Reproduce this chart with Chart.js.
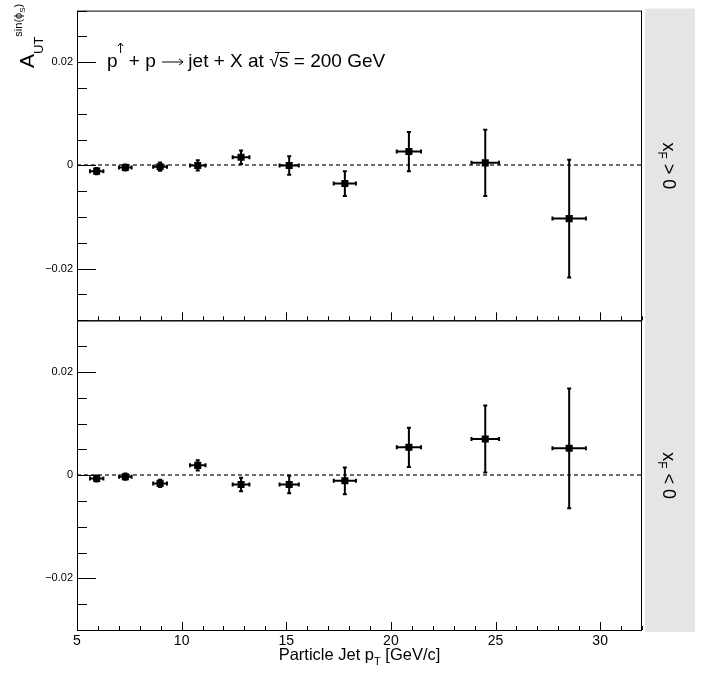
<!DOCTYPE html>
<html>
<head>
<meta charset="utf-8">
<script src="https://cdn.jsdelivr.net/npm/chart.js@4/dist/chart.umd.min.js"></script>
<style>
  body { margin: 0; background: #fff; }
  #wrap { position: relative; width: 701px; height: 674px; }
</style>
</head>
<body>
<div id="wrap"><canvas id="asym_chart"></canvas></div>
<script>
// particle jet pT bins (GeV/c) and their horizontal errors
var jetPt    = [5.94, 7.31, 8.97, 10.77, 12.84, 15.14, 17.80, 20.86, 24.51, 28.52];
var jetPtErr = [0.32, 0.30, 0.33, 0.37, 0.40, 0.46, 0.53, 0.58, 0.66, 0.80];

// A_UT^sin(phi_S), xF > 0 (top) and xF < 0 (bottom)
var aTop    = [-0.0011, -0.0004, -0.00025, 0.0000, 0.0016, 0.0000, -0.0035, 0.0027, 0.0005, -0.0103];
var aTopErr = [0.0006, 0.0006, 0.0008, 0.0010, 0.0013, 0.0018, 0.0024, 0.0038, 0.0064, 0.0114];
var aBot    = [-0.00065, -0.0003, -0.0016, 0.0019, -0.0018, -0.0018, -0.0011, 0.0054, 0.0070, 0.0052];
var aBotErr = [0.0006, 0.0006, 0.0007, 0.0010, 0.0013, 0.0017, 0.0026, 0.0038, 0.0065, 0.0116];

var xTickVals = [5, 10, 15, 20, 25, 30];
var yTickVals = [-0.02, 0, 0.02];
var panelSigns = [">", "<"]; // x_F > 0 / x_F < 0

var FONT = "'Liberation Sans', Arial, Helvetica, sans-serif";

function makePoints(vals, errs) {
  return jetPt.map(function (x, i) {
    return { x: x, y: vals[i], xErr: jetPtErr[i], yErr: errs[i] };
  });
}

// draw pieces of text one after the other on the current baseline
function richText(c, x, y, parts) {
  parts.forEach(function (p) {
    c.font = p.size + "px " + FONT;
    c.fillText(p.t, x, y + (p.dy || 0));
    x += c.measureText(p.t).width;
  });
  return x;
}

var rootFrame = {
  id: "rootFrame",
  beforeDatasetsDraw: function (chart) {
    var c = chart.ctx, xs = chart.scales.x, area = chart.chartArea;
    c.save();
    ["yTop", "yBot"].forEach(function (id) {
      var y0 = Math.round(chart.scales[id].getPixelForValue(0));
      c.strokeStyle = "#6a6a6a";
      c.lineWidth = 2;
      c.setLineDash([4, 3]);
      c.beginPath();
      c.moveTo(area.left, y0);
      c.lineTo(area.right, y0);
      c.stroke();
    });
    c.setLineDash([]);
    // error bars
    chart.data.datasets.forEach(function (ds) {
      var ys = chart.scales[ds.yAxisID];
      c.strokeStyle = "#000";
      c.lineWidth = 2;
      ds.data.forEach(function (d) {
        var px = xs.getPixelForValue(d.x), py = ys.getPixelForValue(d.y);
        var x1 = xs.getPixelForValue(d.x - d.xErr), x2 = xs.getPixelForValue(d.x + d.xErr);
        var y1 = ys.getPixelForValue(d.y - d.yErr), y2 = ys.getPixelForValue(d.y + d.yErr);
        c.beginPath();
        c.moveTo(x1, py); c.lineTo(x2, py);
        c.moveTo(x1, py - 2); c.lineTo(x1, py + 2);
        c.moveTo(x2, py - 2); c.lineTo(x2, py + 2);
        c.moveTo(px, y1); c.lineTo(px, y2);
        c.moveTo(px - 2, y1); c.lineTo(px + 2, y1);
        c.moveTo(px - 2, y2); c.lineTo(px + 2, y2);
        c.stroke();
      });
    });
    c.restore();
  },
  afterDraw: function (chart) {
    var c = chart.ctx, xs = chart.scales.x, area = chart.chartArea;
    c.save();
    c.strokeStyle = "#000";
    c.fillStyle = "#000";
    c.lineWidth = 1;
    ["yTop", "yBot"].forEach(function (id, k) {
      var ys = chart.scales[id];
      var top = ys.top, bot = ys.bottom;
      c.strokeRect(area.left + 0.5, top + 0.5, area.right - area.left - 1, bot - top);
      c.beginPath();
      // y ticks, every 0.005, longer on the labelled ones
      for (var v = -0.03; v <= 0.0301; v += 0.005) {
        var py = Math.round(ys.getPixelForValue(v)) + 0.5;
        var big = yTickVals.some(function (t) { return Math.abs(t - v) < 1e-6; });
        c.moveTo(area.left, py);
        c.lineTo(area.left + (big ? 19 : 10), py);
      }
      // x ticks at the panel bottom
      for (var x = 5; x <= 32; x++) {
        var px = Math.round(xs.getPixelForValue(x)) + 0.5;
        c.moveTo(px, bot);
        c.lineTo(px, bot - (x % 5 === 0 ? 8 : 4));
      }
      c.stroke();

      // grey strip on the right
      c.fillStyle = "#e5e5e5";
      c.fillRect(area.right + 3, top - 2 + (k ? 1 : 0), 50, bot - top + 3);
      c.fillStyle = "#000";
      c.save();
      c.translate(area.right + 21, (top + bot) / 2 - 23);
      c.rotate(Math.PI / 2);
      richText(c, 0, 0, [
        { t: "x", size: 18 },
        { t: "F", size: 12, dy: 5 },
        { t: " " + panelSigns[k] + " 0", size: 18 }
      ]);
      c.restore();
    });

    // y axis title
    c.save();
    c.translate(34, 68);
    c.rotate(-Math.PI / 2);
    var xe = richText(c, 0, 0, [{ t: "A", size: 21 }]);
    var xu = richText(c, xe, 9, [{ t: "UT", size: 13 }]);
    richText(c, xu, -12, [
      { t: "sin(\u03d5", size: 11 },
      { t: "S", size: 8, dy: 3 },
      { t: ")", size: 11 }
    ]);
    c.restore();

    // process label: p^ + p -> jet + X at sqrt(s) = 200 GeV
    var by = 67;
    var bx = richText(c, 107, by, [{ t: "p", size: 19 }]);
    var ax = bx + 3;
    c.beginPath();
    c.moveTo(ax, by - 14); c.lineTo(ax, by - 24);
    c.moveTo(ax - 2.5, by - 21); c.lineTo(ax, by - 24); c.lineTo(ax + 2.5, by - 21);
    c.stroke();
    bx = richText(c, ax + 3, by, [{ t: " + p ", size: 19 }]);
    c.beginPath();
    c.moveTo(bx + 1, by - 5); c.lineTo(bx + 22, by - 5);
    c.moveTo(bx + 18, by - 8); c.lineTo(bx + 22, by - 5); c.lineTo(bx + 18, by - 2);
    c.stroke();
    bx = richText(c, bx + 22, by, [{ t: " jet + X at ", size: 19 }]);
    var rx = bx;
    bx = richText(c, bx, by, [{ t: "\u221a", size: 18 }]);
    bx = richText(c, bx, by, [{ t: "s", size: 19 }]);
    c.beginPath();
    c.moveTo(rx + 6, by - 14.5);
    c.lineTo(bx + 1, by - 14.5);
    c.stroke();
    richText(c, bx, by, [{ t: " = 200 GeV", size: 19 }]);

    // x axis title
    var parts = [
      { t: "Particle Jet p", size: 16.5 },
      { t: "T", size: 11, dy: 5 },
      { t: " [GeV/c]", size: 16.5 }
    ];
    var tw = 0;
    parts.forEach(function (p) {
      c.font = p.size + "px " + FONT;
      tw += c.measureText(p.t).width;
    });
    richText(c, (area.left + area.right) / 2 - tw / 2, 660, parts);
    c.restore();
  }
};

function yAxis() {
  return {
    type: "linear",
    position: "left",
    stack: "panels",
    stackWeight: 1,
    min: -0.03,
    max: 0.03,
    afterBuildTicks: function (s) {
      s.ticks = yTickVals.map(function (v) { return { value: v }; });
    },
    afterFit: function (s) { s.width = 77; },
    grid: { display: false, drawTicks: false },
    border: { display: false },
    ticks: {
      padding: 4,
      color: "#000",
      font: { family: FONT, size: 11 },
      callback: function (v) {
        if (Math.abs(v) < 1e-9) return "0";
        return (v < 0 ? "\u2212" : "") + Math.abs(v).toFixed(2);
      }
    }
  };
}

var ctx = document.getElementById("asym_chart").getContext("2d");
var asym_chart = new Chart(ctx, {
  type: "scatter",
  data: {
    datasets: [
      {
        label: "x_F > 0",
        data: makePoints(aTop, aTopErr),
        yAxisID: "yTop",
        pointStyle: "rect",
        pointRadius: 5,
        backgroundColor: "#000",
        borderWidth: 0,
      },
      {
        label: "x_F < 0",
        data: makePoints(aBot, aBotErr),
        yAxisID: "yBot",
        pointStyle: "rect",
        pointRadius: 5,
        backgroundColor: "#000",
        borderWidth: 0,
      },
    ],
  },
  options: {
    responsive: true,
    maintainAspectRatio: false,
    animation: false,
    layout: { autoPadding: false, padding: { top: 7, right: 59, left: 0, bottom: 0 } },
    plugins: {
      legend: { display: false },
      tooltip: { enabled: false },
    },
    scales: {
      x: {
        type: "linear",
        min: 5,
        max: 32,
        afterBuildTicks: function (s) {
          s.ticks = xTickVals.map(function (v) { return { value: v }; });
        },
        afterFit: function (s) { s.height = 44; },
        grid: { display: false, drawTicks: false },
        border: { display: false },
        ticks: {
          padding: 3,
          maxRotation: 0,
          color: "#000",
          font: { family: FONT, size: 14 },
        },
      },
      // stacked left axes are laid out last-defined on top
      yBot: yAxis(),
      yTop: yAxis(),
    },
  },
  plugins: [rootFrame],
});
</script>
</body>
</html>
